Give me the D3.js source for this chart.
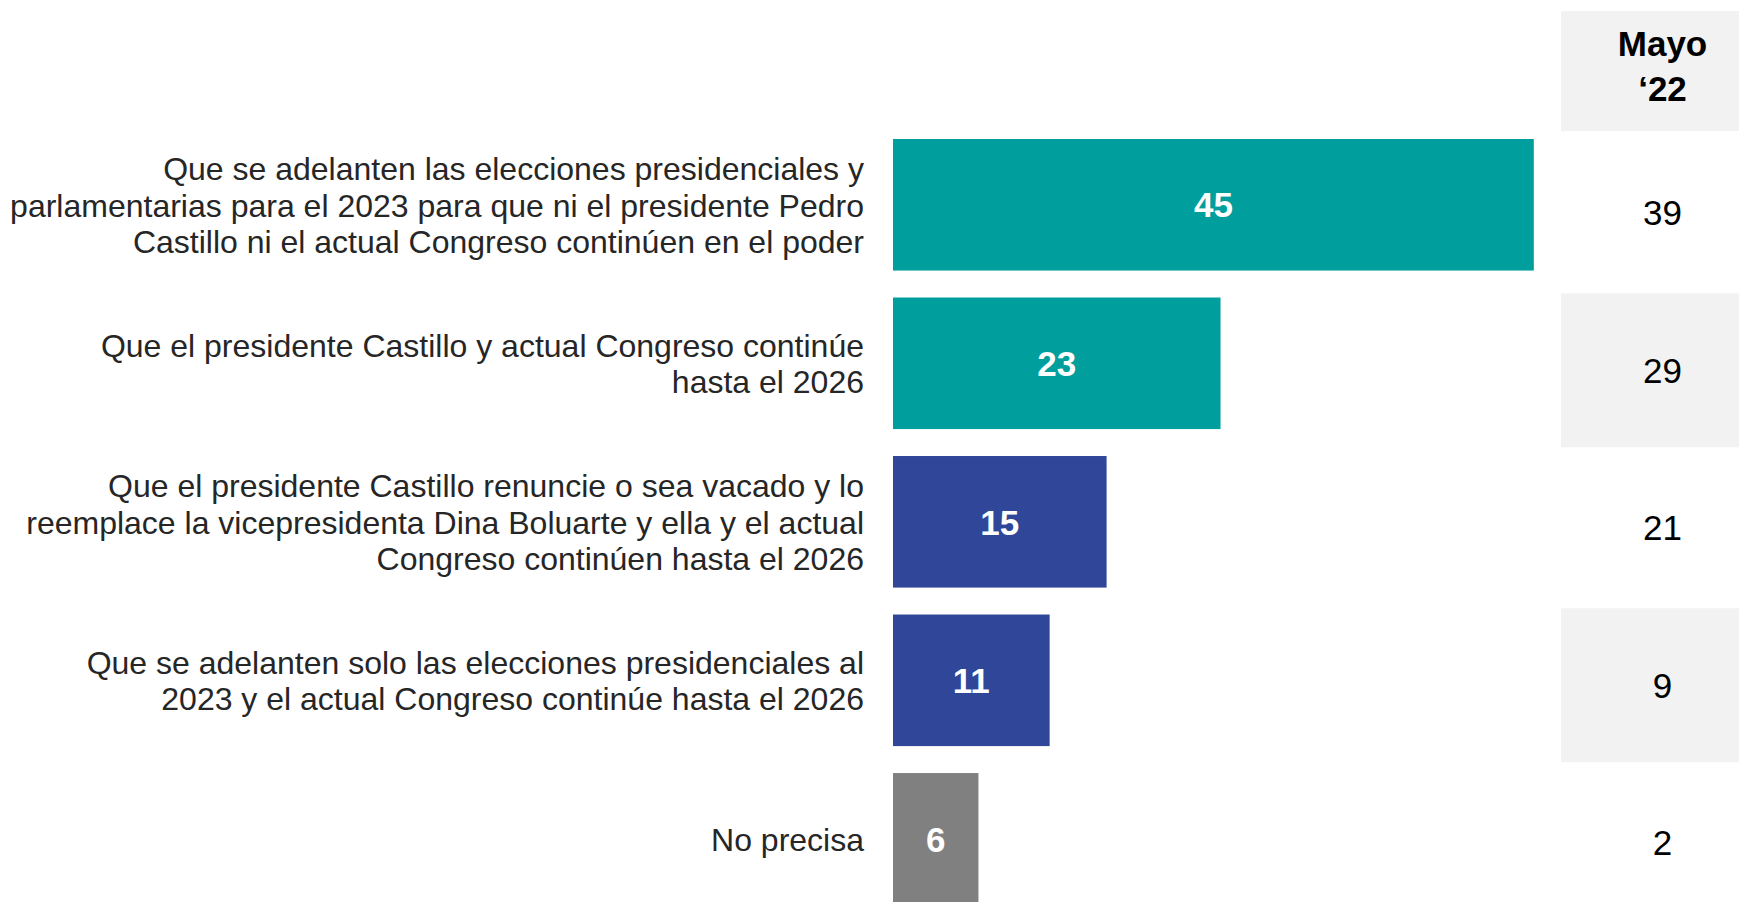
<!DOCTYPE html>
<html>
<head>
<meta charset="utf-8">
<script src="https://cdn.jsdelivr.net/npm/d3@7"></script>
<style>
  html, body { margin: 0; padding: 0; background: #ffffff; }
  svg { display: block; }
  text { font-family: "Liberation Sans", Arial, sans-serif; }
</style>
</head>
<body>
<svg id="chart" width="1739" height="902"></svg>
<script>
// ---- Data ----
const categories = ["adelanto_general", "continuidad", "sucesion_boluarte", "adelanto_presidencial", "no_precisa"];
const labelLines = [
  ["Que se adelanten las elecciones presidenciales y", "parlamentarias para el 2023 para que ni el presidente Pedro", "Castillo ni el actual Congreso continúen en el poder"],
  ["Que el presidente Castillo y actual Congreso continúe", "hasta el 2026"],
  ["Que el presidente Castillo renuncie o sea vacado y lo", "reemplace la vicepresidenta Dina Boluarte y ella y el actual", "Congreso continúen hasta el 2026"],
  ["Que se adelanten solo las elecciones presidenciales al", "2023 y el actual Congreso continúe hasta el 2026"],
  ["No precisa"]
];
const currentValues = [45, 23, 15, 11, 6];
const may22Values = [39, 29, 21, 9, 2];
const compareHeader = ["Mayo", "\u201822"];

// ---- Styles ----
const barColors = ["#009E9C", "#009E9C", "#2F4699", "#2F4699", "#808080"];
const stripeColor = "#F2F2F2";

const svg = d3.select("#chart");

const x = d3.scaleLinear().domain([0, 50]).range([893, 1605]);
const y = d3.scaleBand().domain(categories).range([139, 904.6]).paddingInner(0.17).paddingOuter(0);
const yr = d3.scaleBand().domain(categories).range([134, 921.5]).padding(0);

// right comparison column
const colX0 = 1561, colX1 = 1760, colCx = 1662.5;
svg.append("rect").attr("x", colX0).attr("y", 11).attr("width", colX1 - colX0).attr("height", 120).attr("fill", stripeColor);
svg.selectAll("rect.stripe")
  .data(categories.filter((d, i) => i % 2 === 1))
  .join("rect")
  .attr("class", "stripe")
  .attr("x", colX0)
  .attr("y", d => yr(d) + yr.bandwidth() / 2 - 77)
  .attr("width", colX1 - colX0)
  .attr("height", 154)
  .attr("fill", stripeColor);

svg.selectAll("text.hdr")
  .data(compareHeader)
  .join("text")
  .attr("class", "hdr")
  .attr("x", colCx)
  .attr("y", (d, i) => 56 + i * 44.5)
  .attr("text-anchor", "middle")
  .attr("font-size", 35)
  .attr("font-weight", "bold")
  .attr("fill", "#000")
  .text(d => d);

svg.selectAll("text.cmp")
  .data(categories)
  .join("text")
  .attr("class", "cmp")
  .attr("x", colCx)
  .attr("y", d => yr(d) + yr.bandwidth() / 2 + 12.5)
  .attr("text-anchor", "middle")
  .attr("font-size", 35)
  .attr("fill", "#000")
  .text((d, i) => may22Values[i]);

// bars
svg.selectAll("rect.bar")
  .data(categories)
  .join("rect")
  .attr("class", "bar")
  .attr("x", x(0))
  .attr("y", d => y(d))
  .attr("width", (d, i) => x(currentValues[i]) - x(0))
  .attr("height", y.bandwidth())
  .attr("fill", (d, i) => barColors[i]);

svg.selectAll("text.val")
  .data(categories)
  .join("text")
  .attr("class", "val")
  .attr("x", (d, i) => (x(0) + x(currentValues[i])) / 2)
  .attr("y", d => y(d) + y.bandwidth() / 2 + 12.7)
  .attr("text-anchor", "middle")
  .attr("font-size", 35)
  .attr("font-weight", "bold")
  .attr("fill", "#ffffff")
  .text((d, i) => currentValues[i]);

// category labels
const lineH = 36.6;
const lbl = svg.selectAll("text.lbl")
  .data(categories)
  .join("text")
  .attr("class", "lbl")
  .attr("text-anchor", "end")
  .attr("font-size", 32)
  .attr("fill", "#262626");
lbl.each(function(d, i) {
  const lines = labelLines[i];
  const cy = y(d) + y.bandwidth() / 2;
  d3.select(this).selectAll("tspan")
    .data(lines)
    .join("tspan")
    .attr("x", 864)
    .attr("y", (t, j) => cy + (j - (lines.length - 1) / 2) * lineH + 11.8)
    .text(t => t);
});
</script>
</body>
</html>
